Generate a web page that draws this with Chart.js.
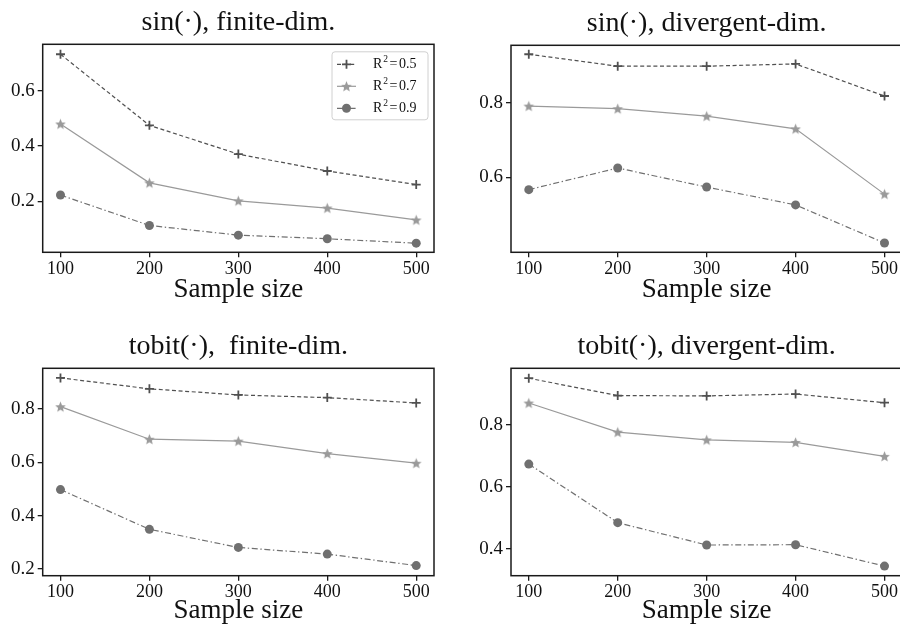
<!DOCTYPE html>
<html>
<head>
<meta charset="utf-8">
<script src="https://cdn.jsdelivr.net/npm/chart.js@4.4.1/dist/chart.umd.min.js"></script>
<style>
html,body{margin:0;padding:0;background:#fff;width:900px;height:628px;overflow:hidden;position:relative;}
canvas{position:absolute;}
</style>
</head>
<body>
<canvas id="c1"></canvas>
<canvas id="c2"></canvas>
<canvas id="c3"></canvas>
<canvas id="c4"></canvas>
<script>
// ---------------- data ----------------
const sampleSizes = [100, 200, 300, 400, 500];
const xTicks = [100, 200, 300, 400, 500];
const r2Levels = ['0.5', '0.7', '0.9'];

const titles = ['sin(\u00b7), finite-dim.', 'sin(\u00b7), divergent-dim.', 'tobit(\u00b7),  finite-dim.', 'tobit(\u00b7), divergent-dim.'];

// panel 1: sin, finite-dim
const sinFinite_r05 = [0.732, 0.475, 0.371, 0.310, 0.261];
const sinFinite_r07 = [0.480, 0.267, 0.202, 0.176, 0.133];
const sinFinite_r09 = [0.223, 0.113, 0.078, 0.065, 0.049];
const sinFinite_yTicks = [0.2, 0.4, 0.6];

// panel 2: sin, divergent-dim
const sinDiv_r05 = [0.930, 0.898, 0.898, 0.904, 0.818];
const sinDiv_r07 = [0.791, 0.784, 0.764, 0.730, 0.555];
const sinDiv_r09 = [0.567, 0.625, 0.574, 0.526, 0.424];
const sinDiv_yTicks = [0.6, 0.8];

// panel 3: tobit, finite-dim
const tobitFinite_r05 = [0.917, 0.876, 0.853, 0.843, 0.823];
const tobitFinite_r07 = [0.809, 0.687, 0.680, 0.633, 0.597];
const tobitFinite_r09 = [0.498, 0.349, 0.281, 0.256, 0.213];
const tobitFinite_yTicks = [0.2, 0.4, 0.6, 0.8];

// panel 4: tobit, divergent-dim
const tobitDiv_r05 = [0.951, 0.895, 0.894, 0.900, 0.872];
const tobitDiv_r07 = [0.871, 0.777, 0.752, 0.744, 0.699];
const tobitDiv_r09 = [0.674, 0.485, 0.413, 0.414, 0.345];
const tobitDiv_yTicks = [0.4, 0.6, 0.8];

// ---------------- styling ----------------
const SERIF = "'Liberation Serif', 'Times New Roman', serif";
const C05 = '#505050', C07 = '#9a9a9a', C09 = '#707070';
const AXIS = '#1a1a1a';

function makeStar(color) {
  const s = 13, c = document.createElement('canvas');
  c.width = s; c.height = s;
  const g = c.getContext('2d');
  const R = 5.6, r = 2.5, cx = s / 2, cy = s / 2 + 0.4;
  g.beginPath();
  for (let i = 0; i < 10; i++) {
    const rad = i % 2 === 0 ? R : r;
    const a = -Math.PI / 2 + i * Math.PI / 5;
    const px = cx + rad * Math.cos(a), py = cy + rad * Math.sin(a);
    i === 0 ? g.moveTo(px, py) : g.lineTo(px, py);
  }
  g.closePath();
  g.fillStyle = color;
  g.fill();
  return c;
}
const starImg = makeStar(C07);

function pts(ys) { return sampleSizes.map((x, i) => ({x: x, y: ys[i]})); }

function datasets(a, b, c) {
  return [
    {label: 'R\u00b2 = ' + r2Levels[0], data: pts(a), borderColor: C05, borderWidth: 1.2, borderDash: [4, 2.6],
     pointStyle: 'cross', pointRadius: 4.5, pointBorderWidth: 1.8, pointBorderColor: C05, pointBackgroundColor: C05, tension: 0},
    {label: 'R\u00b2 = ' + r2Levels[1], data: pts(b), borderColor: C07, borderWidth: 1.2, borderDash: [],
     pointStyle: starImg, pointRadius: 5, pointBorderColor: C07, pointBackgroundColor: C07, tension: 0},
    {label: 'R\u00b2 = ' + r2Levels[2], data: pts(c), borderColor: C09, borderWidth: 1.2, borderDash: [6, 2.6, 1.4, 2.6],
     pointStyle: 'circle', pointRadius: 4.5, pointBorderWidth: 0, pointBorderColor: C09, pointBackgroundColor: C09, tension: 0}
  ];
}

const framePlugin = {
  id: 'frame',
  afterDatasetsDraw(chart) {
    const {ctx, chartArea: a} = chart;
    ctx.save();
    ctx.strokeStyle = AXIS;
    ctx.lineWidth = 1.5;
    ctx.strokeRect(a.left, a.top, a.right - a.left, a.bottom - a.top);
    ctx.restore();
  }
};

const boxLegend = {
  id: 'boxLegend',
  afterDraw(chart, args, opts) {
    if (!opts.show) return;
    const {ctx, chartArea: a} = chart;
    const w = 96, h = 68;
    const x0 = a.right - 6 - w, y0 = a.top + 7.5;
    ctx.save();
    ctx.beginPath();
    if (ctx.roundRect) ctx.roundRect(x0, y0, w, h, 3); else ctx.rect(x0, y0, w, h);
    ctx.fillStyle = 'rgba(255,255,255,0.85)';
    ctx.fill();
    ctx.strokeStyle = '#d0d0d0';
    ctx.lineWidth = 1;
    ctx.stroke();
    chart.data.datasets.forEach((ds, i) => {
      const y = y0 + 12.5 + i * 22;
      ctx.save();
      ctx.strokeStyle = ds.borderColor;
      ctx.lineWidth = ds.borderWidth;
      ctx.setLineDash(ds.borderDash || []);
      ctx.beginPath();
      ctx.moveTo(x0 + 5, y);
      ctx.lineTo(x0 + 24, y);
      ctx.stroke();
      ctx.restore();
      ctx.save();
      ctx.fillStyle = ds.pointBackgroundColor;
      ctx.strokeStyle = ds.pointBorderColor;
      ctx.lineWidth = ds.pointBorderWidth || 1;
      Chart.helpers.drawPoint(ctx, {pointStyle: ds.pointStyle, radius: ds.pointRadius, borderWidth: ds.pointBorderWidth || 0, rotation: 0}, x0 + 14.5, y);
      ctx.restore();
      // label R^2 = value
      ctx.fillStyle = '#111';
      ctx.textBaseline = 'middle';
      ctx.textAlign = 'left';
      let tx = x0 + 41;
      ctx.font = '14px ' + SERIF;
      ctx.fillText('R', tx, y);
      tx += ctx.measureText('R').width + 1;
      ctx.font = '9.5px ' + SERIF;
      ctx.fillText('2', tx, y - 5);
      tx += ctx.measureText('2').width + 1.5;
      ctx.font = '14px ' + SERIF;
      ctx.fillText('=', tx, y);
      tx += ctx.measureText('=').width + 1.5;
      ctx.fillText(r2Levels[i], tx, y);
    });
    ctx.restore();
  }
};

const AREA_W = 391.3;
const panels = [
  {id: 'c1', left: 0,   top: 0,   w: 450, h: 314, aLeft: 42.7, aTop: 44.3, aBottom: 252.3, xPadB: 9,
   title: titles[0], data: [sinFinite_r05, sinFinite_r07, sinFinite_r09], yTicks: sinFinite_yTicks, yMin: 0.016, yMax: 0.768, legend: true},
  {id: 'c2', left: 450, top: 0,   w: 460, h: 314, aLeft: 61,   aTop: 45.3, aBottom: 252.3, xPadB: 9,
   title: titles[1], data: [sinDiv_r05, sinDiv_r07, sinDiv_r09], yTicks: sinDiv_yTicks, yMin: 0.399, yMax: 0.954, legend: false},
  {id: 'c3', left: 0,   top: 314, w: 450, h: 314, aLeft: 42.7, aTop: 54.3, aBottom: 261.7, xPadB: 1.5,
   title: titles[2], data: [tobitFinite_r05, tobitFinite_r07, tobitFinite_r09], yTicks: tobitFinite_yTicks, yMin: 0.175, yMax: 0.953, legend: false},
  {id: 'c4', left: 450, top: 314, w: 460, h: 314, aLeft: 61,   aTop: 54.3, aBottom: 261.7, xPadB: 1.5,
   title: titles[3], data: [tobitDiv_r05, tobitDiv_r07, tobitDiv_r09], yTicks: tobitDiv_yTicks, yMin: 0.314, yMax: 0.983, legend: false}
];

panels.forEach(p => {
  const cv = document.getElementById(p.id);
  cv.width = p.w; cv.height = p.h;
  cv.style.left = p.left + 'px'; cv.style.top = p.top + 'px';
  cv.style.width = p.w + 'px'; cv.style.height = p.h + 'px';
  const titleFont = 28, titleLH = 1.2, titlePadB = 5;
  const titleBlock = titleFont * titleLH + titlePadB;
  new Chart(cv, {
    type: 'line',
    data: {datasets: datasets(p.data[0], p.data[1], p.data[2])},
    options: {
      responsive: false,
      animation: false,
      devicePixelRatio: 1,
      layout: {padding: {top: p.aTop - titleBlock, left: 0, right: p.w - (p.aLeft + AREA_W), bottom: 0}},
      plugins: {
        legend: {display: false},
        tooltip: {enabled: false},
        title: {display: true, text: p.title, fullSize: false, color: '#111',
                font: {family: SERIF, size: titleFont, weight: 'normal', lineHeight: titleLH},
                padding: {top: 0, bottom: titlePadB}},
        boxLegend: {show: p.legend}
      },
      scales: {
        x: {
          type: 'linear', min: 80, max: 520,
          afterBuildTicks: s => { s.ticks = xTicks.map(v => ({value: v})); },
          afterFit: s => { s.height = p.h - p.aBottom; },
          grid: {display: true, drawOnChartArea: false, drawTicks: true, tickLength: 5, color: AXIS, lineWidth: 1.3},
          border: {display: false},
          ticks: {color: '#111', padding: 1, maxRotation: 0, font: {family: SERIF, size: 18}, callback: v => String(v)},
          title: {display: true, text: 'Sample size', color: '#111', font: {family: SERIF, size: 27}, padding: {top: 0, bottom: p.xPadB - 1}}
        },
        y: {
          type: 'linear', min: p.yMin, max: p.yMax,
          afterBuildTicks: s => { s.ticks = p.yTicks.map(v => ({value: v})); },
          afterFit: s => { s.width = p.aLeft; },
          grid: {display: true, drawOnChartArea: false, drawTicks: true, tickLength: 5, color: AXIS, lineWidth: 1.3},
          border: {display: false},
          ticks: {color: '#111', padding: 3, font: {family: SERIF, size: 19}, callback: v => v.toFixed(1)}
        }
      }
    },
    plugins: [framePlugin, boxLegend]
  });
});
</script>
</body>
</html>
